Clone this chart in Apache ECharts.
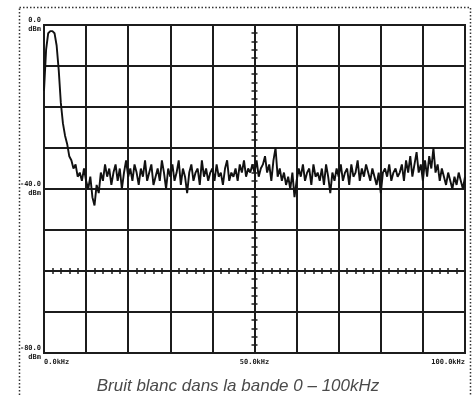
<!DOCTYPE html>
<html>
<head>
    <meta charset="utf-8">
    <title>Bruit blanc</title>
    <script src="https://cdn.jsdelivr.net/npm/echarts@6/dist/echarts.min.js"></script>
    <style>
        body { margin: 0; background: #fff; }
    </style>
</head>
<body>
    <div id="main" style="width: 476px;height:396px;"></div>
    <script type="text/javascript">
        // balayage 0 - 100 kHz, un point tous les 0.5 kHz
        var startKHz = 0;
        var stepKHz = 0.5;
        // niveau relevé (dBm)
        var levelDbm = [
            -16, -6, -2, -1.5, -1.5, -2, -5, -11, -19, -24,
            -27, -29, -32, -33, -35, -34, -37, -36, -38, -35,
            -38, -40, -37, -42, -44, -39, -41, -36, -38, -34,
            -37, -35, -39, -36, -34, -38, -35, -40, -36, -33,
            -37, -35, -38, -34, -36, -39, -35, -37, -33, -38,
            -36, -34, -39, -37, -35, -38, -33, -36, -40, -35,
            -37, -34, -38, -36, -33, -39, -35, -37, -41, -36,
            -34, -38, -36, -35, -39, -33, -37, -35, -38, -36,
            -35, -38, -34, -37, -36, -39, -35, -33, -38, -36,
            -37, -35, -38, -34, -36, -33, -37, -35, -36, -34,
            -36, -33, -37, -35, -34, -32, -36, -34, -38, -33,
            -30, -37, -35, -38, -36, -39, -37, -40, -36, -42,
            -38, -35, -37, -34, -38, -36, -35, -39, -34, -37,
            -36, -38, -35, -39, -34, -37, -41, -36, -38, -35,
            -37, -34, -38, -36, -35, -39, -34, -37, -36, -33,
            -38, -35, -37, -34, -36, -38, -35, -37, -39, -36,
            -41, -36, -35, -37, -34, -38, -36, -35, -37, -36,
            -34, -38, -33, -36, -32, -37, -34, -31, -36, -34,
            -38, -33, -37, -32, -35, -30, -36, -34, -38, -35,
            -37, -39, -36, -38, -40, -37, -39, -36, -38, -40,
            -37
        ];
        var xLabels = { 0: '0.0kHz', 50: '50.0kHz', 100: '100.0kHz' };
        var yLabels = { 0: '0.0', '-40': '-40.0', '-80': '-80.0' };
        var caption = 'Bruit blanc dans la bande 0 \u2013 100kHz';

        var points = levelDbm.map(function (v, i) {
            return [startKHz + i * stepKHz, v];
        });

        var gridW = 421, gridH = 328;
        var ink = '#1c1c1c';
        var labelFont = { fontFamily: 'DejaVu Sans Mono', fontWeight: 'bold', fontSize: 7, color: ink };

        // axes du réticule central (graduations de part et d'autre)
        function crossX(inside) {
            return {
                type: 'value', min: 0, max: 100, interval: 2, position: 'bottom',
                offset: -gridH / 4,
                axisLine: { show: true, onZero: false, lineStyle: { color: ink, width: 2 } },
                axisTick: { show: true, inside: inside, length: 3, lineStyle: { color: ink, width: 1.5 } },
                axisLabel: { show: false }, splitLine: { show: false }
            };
        }
        function crossY(inside) {
            return {
                type: 'value', min: -80, max: 0, interval: 2, position: 'left',
                offset: -gridW / 2,
                axisLine: { show: true, onZero: false, lineStyle: { color: ink, width: 2 } },
                axisTick: { show: true, inside: inside, length: 3, lineStyle: { color: ink, width: 1.5 } },
                axisLabel: { show: false }, splitLine: { show: false }
            };
        }

        var myChart = echarts.init(document.getElementById('main'));
        var option = {
            animation: false,
            backgroundColor: '#fff',
            title: {
                text: caption,
                left: 'center',
                top: 373,
                textStyle: { fontFamily: 'Liberation Sans', fontStyle: 'italic', fontWeight: 'normal', fontSize: 17, color: '#4a4a4a' }
            },
            grid: {
                left: 44, top: 25, width: gridW, height: gridH,
                show: true, borderColor: ink, borderWidth: 2
            },
            xAxis: [
                {
                    type: 'value', min: 0, max: 100, interval: 10,
                    axisLine: { show: true, onZero: false, lineStyle: { color: ink, width: 2 } },
                    axisTick: { show: false },
                    splitLine: { show: true, lineStyle: { color: ink, width: 2 } },
                    axisLabel: Object.assign({
                        margin: 6,
                        alignMinLabel: 'left',
                        alignMaxLabel: 'right',
                        formatter: function (v) { return xLabels[v] || ''; }
                    }, labelFont)
                },
                crossX(false),
                crossX(true)
            ],
            yAxis: [
                {
                    type: 'value', min: -80, max: 0, interval: 10,
                    axisLine: { show: true, onZero: false, lineStyle: { color: ink, width: 2 } },
                    axisTick: { show: false },
                    splitLine: { show: true, lineStyle: { color: ink, width: 2 } },
                    axisLabel: Object.assign({
                        margin: 3,
                        lineHeight: 9,
                        padding: [0, 0, 6, 0],
                        formatter: function (v) {
                            return yLabels[v] ? yLabels[v] + '\ndBm' : '';
                        }
                    }, labelFont)
                },
                crossY(false),
                crossY(true)
            ],
            graphic: [
                {
                    type: 'rect',
                    shape: { x: 19.5, y: 7.5, width: 451, height: 420 },
                    style: { fill: null, stroke: '#333', lineWidth: 1.5, lineDash: [1.5, 2] },
                    silent: true
                }
            ],
            series: [
                {
                    type: 'line',
                    xAxisIndex: 0,
                    yAxisIndex: 0,
                    data: points,
                    symbol: 'none',
                    lineStyle: { color: '#111', width: 1.9 }
                }
            ]
        };
        myChart.setOption(option);
    </script>
</body>
</html>
